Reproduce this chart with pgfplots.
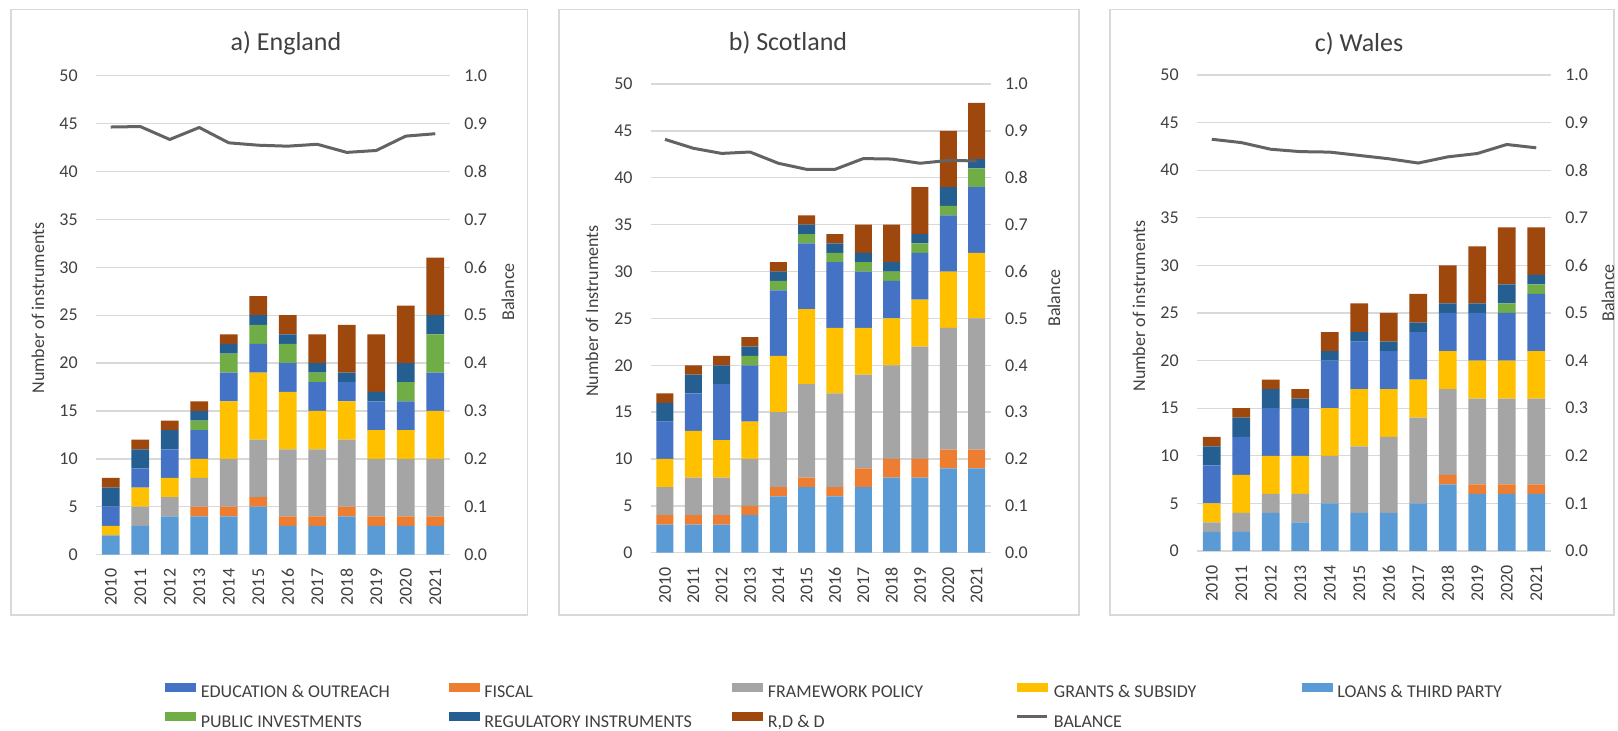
\documentclass[border=0pt]{standalone}
\usepackage{fontspec}
\setmainfont{Carlito}
\usepackage{pgfplots}
\usepackage{pgfplotstable}
\pgfplotsset{compat=1.18}

\definecolor{cLoans}{HTML}{5B9BD5}
\definecolor{cFiscal}{HTML}{ED7D31}
\definecolor{cFrame}{HTML}{A5A5A5}
\definecolor{cGrants}{HTML}{FFC000}
\definecolor{cEdu}{HTML}{4472C4}
\definecolor{cPub}{HTML}{70AD47}
\definecolor{cReg}{HTML}{255E91}
\definecolor{cRdd}{HTML}{9E480E}
\definecolor{cBal}{HTML}{636363}
\definecolor{cGrid}{HTML}{D9D9D9}
\definecolor{cText}{HTML}{404040}

\newcommand\tickfont{\fontsize{13.5}{16}\selectfont}
\newcommand\labfont{\fontsize{13.5}{16}\selectfont}
\newcommand\titlefont{\fontsize{19.5}{23}\selectfont}

% columns: loans, fiscal, framework, grants, education, public inv., regulatory, R,D&D, balance
\pgfplotstableread{
x loans fiscal frame grants edu pub reg rdd bal
0  2 0 0 1 2 0 2 1 0.893
1  3 0 2 2 2 0 2 1 0.894
2  4 0 2 2 3 0 2 1 0.867
3  4 1 3 2 3 1 1 1 0.892
4  4 1 5 6 3 2 1 1 0.860
5  5 1 6 7 3 2 1 2 0.855
6  3 1 7 6 3 2 1 2 0.853
7  3 1 7 4 3 1 1 3 0.857
8  4 1 7 4 2 0 1 5 0.840
9  3 1 6 3 3 0 1 6 0.844
10 3 1 6 3 3 2 2 6 0.874
11 3 1 6 5 4 4 2 6 0.879
}\england

\pgfplotstableread{
x loans fiscal frame grants edu pub reg rdd bal
0  3 1 3  3 4 0 2 1 0.882
1  3 1 4  5 4 0 2 1 0.863
2  3 1 4  4 6 0 2 1 0.852
3  4 1 5  4 6 1 1 1 0.855
4  6 1 8  6 7 1 1 1 0.831
5  7 1 10 8 7 1 1 1 0.818
6  6 1 10 7 7 1 1 1 0.818
7  7 2 10 5 6 1 1 3 0.841
8  8 2 10 5 4 1 1 4 0.840
9  8 2 12 5 5 1 1 5 0.831
10 9 2 13 6 6 1 2 6 0.837
11 9 2 14 7 7 2 1 6 0.836
}\scotland

\pgfplotstableread{
x loans fiscal frame grants edu pub reg rdd bal
0  2 0 1 2 4 0 2 1 0.865
1  2 0 2 4 4 0 2 1 0.858
2  4 0 2 4 5 0 2 1 0.844
3  3 0 3 4 5 0 1 1 0.839
4  5 0 5 5 5 0 1 2 0.838
5  4 0 7 6 5 0 1 3 0.831
6  4 0 8 5 4 0 1 3 0.824
7  5 0 9 4 5 0 1 3 0.815
8  7 1 9 4 4 0 1 4 0.828
9  6 1 9 4 5 0 1 6 0.835
10 6 1 9 4 5 1 2 6 0.854
11 6 1 9 5 6 1 1 5 0.847
}\wales

\pgfplotsset{
  panel/.style={
    scale only axis, anchor=south west,
    xmin=-0.5, xmax=11.5, enlargelimits=false,
    axis line style={draw=none}, major tick length=0pt,
    /pgf/number format/assume math mode=true,
  },
  barax/.style={
    panel, ybar stacked, bar width=0.6,
    ymin=0, ymax=50, ytick={0,5,...,50},
    ymajorgrids, grid style={cGrid, line width=1pt},
    xtick={0,...,11},
    xticklabels={2010,2011,2012,2013,2014,2015,2016,2017,2018,2019,2020,2021},
    yticklabel style={font=\tickfont, text=cText, anchor=east, inner sep=0pt, xshift=-13.5pt},
    xticklabel style={font=\tickfont, text=cText, yshift=-10.5pt, rotate=90, anchor=east, inner sep=0pt},
  },
  balax/.style={
    panel, ymin=0, ymax=1,
    ytick={0,0.1,0.2,0.3,0.4,0.5,0.6,0.7,0.8,0.9,1},
    yticklabel pos=right, xtick=\empty,
    yticklabel style={font=\tickfont, text=cText, anchor=west, inner sep=0pt, xshift=10.5pt,
      /pgf/number format/.cd, fixed, fixed zerofill, precision=1},
  },
  balline/.style={cBal, line width=2.25pt, line join=round},
}

\newcommand\stackbars[1]{%
  \addplot[fill=cLoans, draw=none] table[x=x, y=loans]{#1};
  \addplot[fill=cFiscal, draw=none] table[x=x, y=fiscal]{#1};
  \addplot[fill=cFrame, draw=none] table[x=x, y=frame]{#1};
  \addplot[fill=cGrants, draw=none] table[x=x, y=grants]{#1};
  \addplot[fill=cEdu, draw=none] table[x=x, y=edu]{#1};
  \addplot[fill=cPub, draw=none] table[x=x, y=pub]{#1};
  \addplot[fill=cReg, draw=none] table[x=x, y=reg]{#1};
  \addplot[fill=cRdd, draw=none] table[x=x, y=rdd]{#1};
}

\begin{document}
\begin{tikzpicture}[x=0.75pt, y=0.75pt]
\path[use as bounding box] (0,0) rectangle (1618,731);

% chart frames
\draw[cGrid, line width=1pt] (11,721.7) rectangle (527.6,116);
\draw[cGrid, line width=1pt] (559,721.7) rectangle (1079,116);
\draw[cGrid, line width=1pt] (1110,721.7) rectangle (1614,116);

% a) England
\begin{axis}[barax, at={(72pt,132.3pt)}, width=265.5pt, height=359.1pt]
\stackbars{\england}
\end{axis}
\begin{axis}[balax, at={(72pt,132.3pt)}, width=265.5pt, height=359.1pt]
\addplot[balline] table[x=x, y=bal]{\england};
\end{axis}

% b) Scotland
\begin{axis}[barax, at={(488.1pt,133.7pt)}, width=255pt, height=351.5pt]
\stackbars{\scotland}
\end{axis}
\begin{axis}[balax, at={(488.1pt,133.7pt)}, width=255pt, height=351.5pt]
\addplot[balline] table[x=x, y=bal]{\scotland};
\end{axis}

% c) Wales
\begin{axis}[barax, at={(897.75pt,135pt)}, width=265.5pt, height=357pt]
\stackbars{\wales}
\end{axis}
\begin{axis}[balax, at={(897.75pt,135pt)}, width=265.5pt, height=357pt]
\addplot[balline] table[x=x, y=bal]{\wales};
\end{axis}

% titles and axis titles
\begin{scope}[text=cText]
\node[font=\titlefont] at (286,688) {a) England};
\node[font=\titlefont] at (788,688) {b) Scotland};
\node[font=\titlefont] at (1359,687) {c) Wales};
\node[font=\labfont, rotate=90] at (38,423) {Number of instruments};
\node[font=\labfont, rotate=90] at (592,420) {Number of Instruments};
\node[font=\labfont, rotate=90] at (1139,425) {Number of instruments};
\node[font=\labfont, rotate=90] at (508,439) {Balance};
\node[font=\labfont, rotate=90] at (1054,433) {Balance};
\node[font=\labfont, rotate=90] at (1608,438) {Balance};
\end{scope}

% legend
\begin{axis}[hide axis, scale only axis, anchor=south west, at={(0pt,0pt)},
  width=1213.5pt, height=548.25pt, xmin=0, xmax=1, ymin=0, ymax=1,
  legend columns=5, legend cell align=left,
  legend style={at={(0.102,0.0665)}, anchor=north west, draw=none, fill=none,
    inner sep=0pt, font=\labfont, text=cText, row sep=8pt,
    nodes={inner sep=0pt, text height=10pt, text depth=3pt},
    /tikz/every odd column/.append style={column sep=3.75pt}}]
\addlegendimage{legend image code/.code={\fill[cEdu] (0pt,1.5pt) rectangle (22.5pt,7.5pt);}}
\addlegendentry{\makebox[186pt][l]{EDUCATION \& OUTREACH}}
\addlegendimage{legend image code/.code={\fill[cFiscal] (0pt,1.5pt) rectangle (22.5pt,7.5pt);}}
\addlegendentry{\makebox[186pt][l]{FISCAL}}
\addlegendimage{legend image code/.code={\fill[cFrame] (0pt,1.5pt) rectangle (22.5pt,7.5pt);}}
\addlegendentry{\makebox[186pt][l]{FRAMEWORK POLICY}}
\addlegendimage{legend image code/.code={\fill[cGrants] (0pt,1.5pt) rectangle (22.5pt,7.5pt);}}
\addlegendentry{\makebox[186pt][l]{GRANTS \& SUBSIDY}}
\addlegendimage{legend image code/.code={\fill[cLoans] (0pt,1.5pt) rectangle (22.5pt,7.5pt);}}
\addlegendentry{\makebox[186pt][l]{LOANS \& THIRD PARTY}}
\addlegendimage{legend image code/.code={\fill[cPub] (0pt,1.5pt) rectangle (22.5pt,7.5pt);}}
\addlegendentry{\makebox[186pt][l]{PUBLIC INVESTMENTS}}
\addlegendimage{legend image code/.code={\fill[cReg] (0pt,1.5pt) rectangle (22.5pt,7.5pt);}}
\addlegendentry{\makebox[186pt][l]{REGULATORY INSTRUMENTS}}
\addlegendimage{legend image code/.code={\fill[cRdd] (0pt,1.5pt) rectangle (22.5pt,7.5pt);}}
\addlegendentry{\makebox[186pt][l]{R,D \& D}}
\addlegendimage{legend image code/.code={\draw[cBal, line width=2.25pt] (0pt,4.5pt) -- (22.5pt,4.5pt);}}
\addlegendentry{\makebox[186pt][l]{BALANCE}}
\end{axis}
\end{tikzpicture}
\end{document}
